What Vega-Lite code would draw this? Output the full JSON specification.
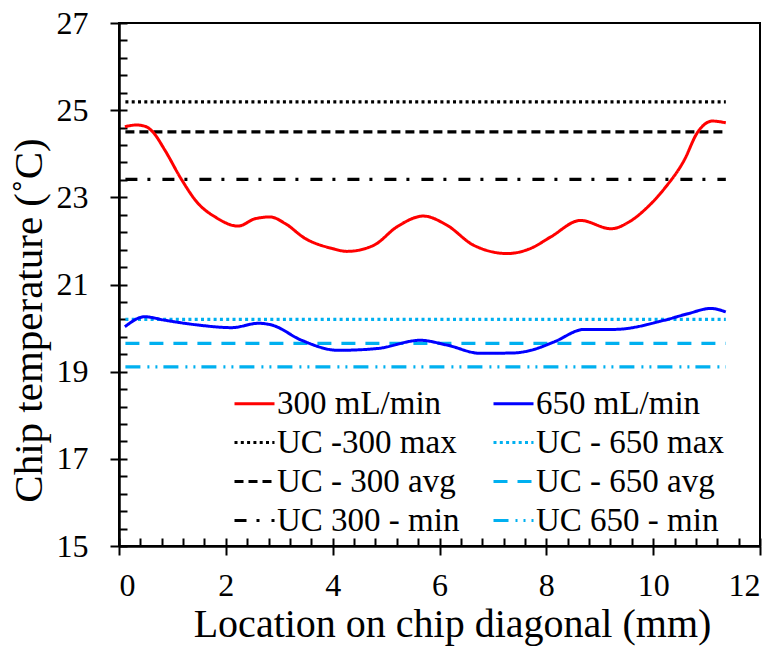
{
  "$schema": "https://vega.github.io/schema/vega-lite/v6.json",
  "width": 641,
  "height": 523,
  "autosize": {"type": "none"},
  "padding": {"left": 119, "top": 23, "right": 18, "bottom": 100},
  "background": "white",
  "config": {
    "font": "Liberation Serif, Times New Roman, serif",
    "view": {"stroke": "black", "strokeWidth": 2},
    "axis": {"grid": false, "domainColor": "black", "tickColor": "black", "labelColor": "black", "titleColor": "black", "labelFont": "Liberation Serif, Times New Roman, serif", "titleFont": "Liberation Serif, Times New Roman, serif", "titleFontWeight": "normal"},
    "legend": {"labelFont": "Liberation Serif, Times New Roman, serif", "labelColor": "black", "labelFontSize": 33}
  },
  "datasets": {
    "curves": [
      {"series": "300 mL/min", "x": 0.11, "y": 24.62},
      {"series": "300 mL/min", "x": 0.33, "y": 24.66},
      {"series": "300 mL/min", "x": 0.51, "y": 24.62},
      {"series": "300 mL/min", "x": 0.64, "y": 24.49},
      {"series": "300 mL/min", "x": 0.86, "y": 24.08},
      {"series": "300 mL/min", "x": 1.17, "y": 23.41},
      {"series": "300 mL/min", "x": 1.48, "y": 22.86},
      {"series": "300 mL/min", "x": 1.8, "y": 22.55},
      {"series": "300 mL/min", "x": 2.23, "y": 22.34},
      {"series": "300 mL/min", "x": 2.55, "y": 22.51},
      {"series": "300 mL/min", "x": 2.83, "y": 22.55},
      {"series": "300 mL/min", "x": 3.11, "y": 22.4},
      {"series": "300 mL/min", "x": 3.48, "y": 22.06},
      {"series": "300 mL/min", "x": 3.98, "y": 21.83},
      {"series": "300 mL/min", "x": 4.27, "y": 21.76},
      {"series": "300 mL/min", "x": 4.77, "y": 21.9},
      {"series": "300 mL/min", "x": 5.2, "y": 22.32},
      {"series": "300 mL/min", "x": 5.7, "y": 22.57},
      {"series": "300 mL/min", "x": 6.14, "y": 22.36},
      {"series": "300 mL/min", "x": 6.64, "y": 21.9},
      {"series": "300 mL/min", "x": 7.27, "y": 21.71},
      {"series": "300 mL/min", "x": 7.71, "y": 21.83},
      {"series": "300 mL/min", "x": 8.08, "y": 22.09},
      {"series": "300 mL/min", "x": 8.64, "y": 22.47},
      {"series": "300 mL/min", "x": 9.21, "y": 22.28},
      {"series": "300 mL/min", "x": 9.58, "y": 22.46},
      {"series": "300 mL/min", "x": 9.89, "y": 22.77},
      {"series": "300 mL/min", "x": 10.21, "y": 23.2},
      {"series": "300 mL/min", "x": 10.58, "y": 23.85},
      {"series": "300 mL/min", "x": 10.83, "y": 24.49},
      {"series": "300 mL/min", "x": 11.11, "y": 24.75},
      {"series": "300 mL/min", "x": 11.36, "y": 24.71},
      {"series": "650 mL/min", "x": 0.11, "y": 20.03},
      {"series": "650 mL/min", "x": 0.48, "y": 20.26},
      {"series": "650 mL/min", "x": 0.86, "y": 20.18},
      {"series": "650 mL/min", "x": 1.48, "y": 20.07},
      {"series": "650 mL/min", "x": 2.11, "y": 20.01},
      {"series": "650 mL/min", "x": 2.61, "y": 20.11},
      {"series": "650 mL/min", "x": 2.86, "y": 20.07},
      {"series": "650 mL/min", "x": 3.42, "y": 19.72},
      {"series": "650 mL/min", "x": 4.1, "y": 19.49},
      {"series": "650 mL/min", "x": 4.83, "y": 19.53},
      {"series": "650 mL/min", "x": 5.64, "y": 19.72},
      {"series": "650 mL/min", "x": 6.14, "y": 19.61},
      {"series": "650 mL/min", "x": 6.77, "y": 19.42},
      {"series": "650 mL/min", "x": 7.39, "y": 19.43},
      {"series": "650 mL/min", "x": 7.71, "y": 19.49},
      {"series": "650 mL/min", "x": 8.14, "y": 19.68},
      {"series": "650 mL/min", "x": 8.71, "y": 19.97},
      {"series": "650 mL/min", "x": 9.27, "y": 19.97},
      {"series": "650 mL/min", "x": 10.21, "y": 20.18},
      {"series": "650 mL/min", "x": 10.65, "y": 20.33},
      {"series": "650 mL/min", "x": 11.08, "y": 20.45},
      {"series": "650 mL/min", "x": 11.36, "y": 20.37}
    ],
    "refs": [
      {"series": "UC -300 max", "x": 0.12, "y": 25.19},
      {"series": "UC -300 max", "x": 11.36, "y": 25.19},
      {"series": "UC - 650 max", "x": 0.12, "y": 20.2},
      {"series": "UC - 650 max", "x": 11.36, "y": 20.2},
      {"series": "UC - 300 avg", "x": 0.12, "y": 24.5},
      {"series": "UC - 300 avg", "x": 11.36, "y": 24.5},
      {"series": "UC - 650 avg", "x": 0.12, "y": 19.65},
      {"series": "UC - 650 avg", "x": 11.36, "y": 19.65},
      {"series": "UC 300 - min", "x": 0.12, "y": 23.41},
      {"series": "UC 300 - min", "x": 11.36, "y": 23.41},
      {"series": "UC 650 - min", "x": 0.12, "y": 19.11},
      {"series": "UC 650 - min", "x": 11.36, "y": 19.11}
    ]
  },
  "layer": [
    {
      "data": {"name": "refs"},
      "mark": {"type": "line", "strokeWidth": 3.2},
      "encoding": {
        "x": {"field": "x", "type": "quantitative", "scale": {"domain": [0, 12], "nice": false, "zero": false},
          "axis": {"orient": "bottom", "values": [0, 0.4, 0.8, 1.2, 1.6, 2, 2.4, 2.8, 3.2, 3.6, 4, 4.4, 4.8, 5.2, 5.6, 6, 6.4, 6.8, 7.2, 7.6, 8, 8.4, 8.8, 9.2, 9.6, 10, 10.4, 10.8, 11.2, 11.6, 12], "tickSize": -8, "tickWidth": 2, "labels": false, "domain": false, "title": null}},
        "y": {"field": "y", "type": "quantitative", "scale": {"domain": [15, 27], "nice": false, "zero": false},
          "axis": {"orient": "left", "values": [15, 15.4, 15.8, 16.2, 16.6, 17, 17.4, 17.8, 18.2, 18.6, 19, 19.4, 19.8, 20.2, 20.6, 21, 21.4, 21.8, 22.2, 22.6, 23, 23.4, 23.8, 24.2, 24.6, 25, 25.4, 25.8, 26.2, 26.6, 27], "tickSize": -8, "tickWidth": 2, "labels": false, "domain": false, "title": null}},
        "color": {"field": "series", "type": "nominal",
          "scale": {"domain": ["300 mL/min", "UC -300 max", "UC - 300 avg", "UC 300 - min", "650 mL/min", "UC - 650 max", "UC - 650 avg", "UC 650 - min"],
            "range": ["#FF0000", "#000000", "#000000", "#000000", "#0000FF", "#00B0F0", "#00B0F0", "#00B0F0"]},
          "legend": {"orient": "none", "legendX": 114, "legendY": 359, "columns": 2, "title": null, "symbolType": "stroke", "symbolSize": 1600, "symbolStrokeWidth": 3, "labelFontSize": 33, "labelOffset": 1, "columnPadding": 27, "rowPadding": -2, "labelLimit": 400}},
        "strokeDash": {"field": "series", "type": "nominal",
          "scale": {"domain": ["300 mL/min", "UC -300 max", "UC - 300 avg", "UC 300 - min", "650 mL/min", "UC - 650 max", "UC - 650 avg", "UC 650 - min"],
            "range": [[1, 0], [3, 3.3], [9, 5], [12, 10, 3, 12], [1, 0], [3, 3.3], [14, 10], [15, 7, 2, 6, 2, 6]]},
          "legend": {"orient": "none", "legendX": 114, "legendY": 359, "columns": 2, "title": null, "symbolType": "stroke", "symbolSize": 1600, "symbolStrokeWidth": 3, "labelFontSize": 33, "labelOffset": 1, "columnPadding": 27, "rowPadding": -2, "labelLimit": 400}},
        "strokeWidth": {"condition": {"test": "datum.series === 'UC 650 - min'", "value": 2.2}, "value": 3.2}
      }
    },
    {
      "data": {"name": "curves"},
      "mark": {"type": "line", "strokeWidth": 3, "interpolate": "monotone"},
      "encoding": {
        "x": {"field": "x", "type": "quantitative", "scale": {"domain": [0, 12], "nice": false, "zero": false},
          "axis": {"orient": "bottom", "values": [0, 2, 4, 6, 8, 10, 12], "tickSize": 9, "tickWidth": 2, "domainWidth": 2.5, "labelFontSize": 32, "labelPadding": 15, "title": "Location on chip diagonal (mm)", "titleFontSize": 40, "titleX": 333, "titleY": 58}},
        "y": {"field": "y", "type": "quantitative", "scale": {"domain": [15, 27], "nice": false, "zero": false},
          "axis": {"orient": "left", "values": [15, 17, 19, 21, 23, 25, 27], "tickSize": 9, "tickWidth": 2, "domainWidth": 2.5, "labelFontSize": 32, "labelPadding": 22, "title": "Chip temperature (˚C)", "titleFontSize": 41, "titleX": -69, "titleY": 297}},
        "color": {"field": "series", "type": "nominal",
          "scale": {"domain": ["300 mL/min", "UC -300 max", "UC - 300 avg", "UC 300 - min", "650 mL/min", "UC - 650 max", "UC - 650 avg", "UC 650 - min"],
            "range": ["#FF0000", "#000000", "#000000", "#000000", "#0000FF", "#00B0F0", "#00B0F0", "#00B0F0"]},
          "legend": {"orient": "none", "legendX": 114, "legendY": 359, "columns": 2, "title": null, "symbolType": "stroke", "symbolSize": 1600, "symbolStrokeWidth": 3, "labelFontSize": 33, "labelOffset": 1, "columnPadding": 27, "rowPadding": -2, "labelLimit": 400}},
        "strokeDash": {"field": "series", "type": "nominal",
          "scale": {"domain": ["300 mL/min", "UC -300 max", "UC - 300 avg", "UC 300 - min", "650 mL/min", "UC - 650 max", "UC - 650 avg", "UC 650 - min"],
            "range": [[1, 0], [3, 3.3], [9, 5], [12, 10, 3, 12], [1, 0], [3, 3.3], [14, 10], [15, 7, 2, 6, 2, 6]]},
          "legend": {"orient": "none", "legendX": 114, "legendY": 359, "columns": 2, "title": null, "symbolType": "stroke", "symbolSize": 1600, "symbolStrokeWidth": 3, "labelFontSize": 33, "labelOffset": 1, "columnPadding": 27, "rowPadding": -2, "labelLimit": 400}}
      }
    }
  ],
  "resolve": {"axis": {"x": "independent", "y": "independent"}}
}
